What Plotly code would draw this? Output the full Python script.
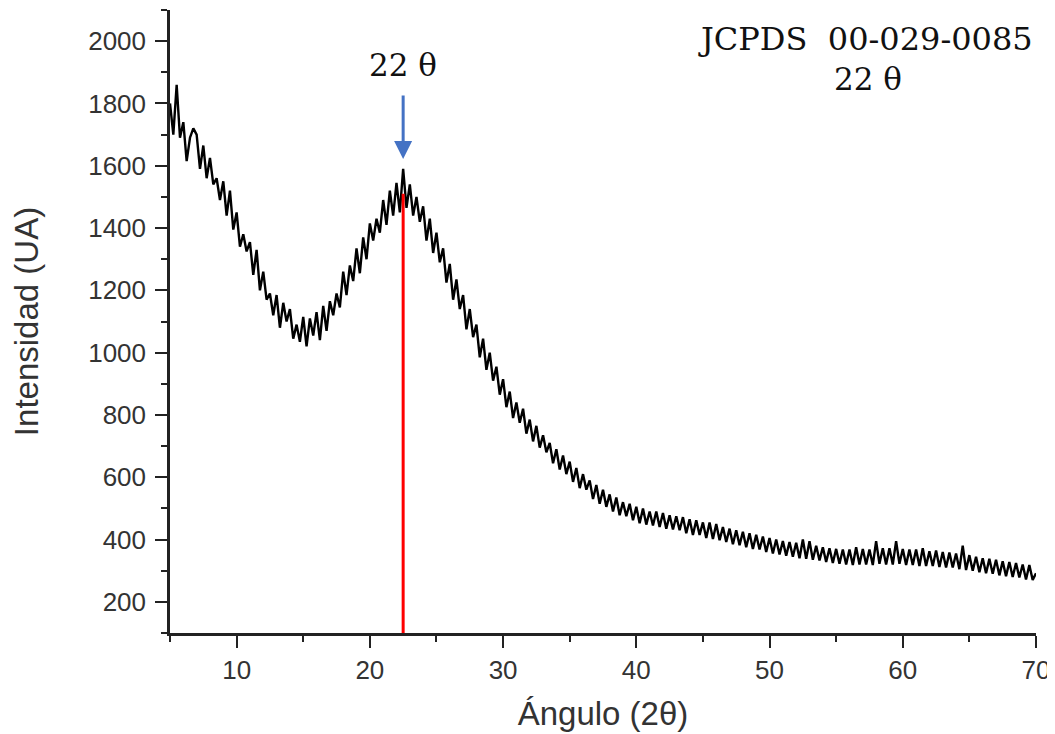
import plotly.graph_objects as go

# Difractograma (DRX) - intensidad leida cada 0.25 grados desde 5 hasta 70
intensity = [
    1800, 1700, 1860, 1690,   # 5
    1740, 1615, 1690, 1720,   # 6
    1700, 1590, 1665, 1560,   # 7
    1625, 1540, 1560, 1490,   # 8
    1550, 1440, 1520, 1395,   # 9
    1450, 1340, 1380, 1325,   # 10
    1355, 1250, 1330, 1200,   # 11
    1260, 1170, 1190, 1120,   # 12
    1185, 1080, 1160, 1100,   # 13
    1140, 1045, 1090, 1035,   # 14
    1115, 1020, 1110, 1055,   # 15
    1130, 1040, 1150, 1070,   # 16
    1165, 1120, 1190, 1145,   # 17
    1260, 1185, 1280, 1230,   # 18
    1335, 1255, 1370, 1300,   # 19
    1415, 1360, 1430, 1385,   # 20
    1490, 1410, 1520, 1440,   # 21
    1545, 1450, 1590, 1465,   # 22
    1540, 1440, 1500, 1420,   # 23
    1470, 1360, 1430, 1320,   # 24
    1385, 1290, 1335, 1225,   # 25
    1285, 1170, 1235, 1140,   # 26
    1185, 1075, 1140, 1050,   # 27
    1090, 985, 1045, 945,     # 28
    1000, 910, 955, 865,      # 29
    915, 825, 875, 790,       # 30
    840, 775, 820, 740,       # 31
    785, 715, 765, 695,       # 32
    735, 680, 710, 645,       # 33
    690, 625, 670, 610,       # 34
    650, 585, 630, 565,       # 35
    610, 560, 590, 530,       # 36
    575, 515, 560, 505,       # 37
    545, 490, 535, 478,       # 38
    520, 475, 515, 462,       # 39
    505, 452, 500, 448,       # 40
    490, 445, 490, 440,       # 41
    485, 435, 478, 432,       # 42
    475, 430, 472, 420,       # 43
    465, 415, 462, 415,       # 44
    455, 405, 455, 402,       # 45
    450, 398, 440, 392,       # 46
    435, 385, 430, 382,       # 47
    425, 375, 420, 370,       # 48
    415, 368, 410, 360,       # 49
    405, 355, 400, 352,       # 50
    395, 348, 392, 345,       # 51
    390, 340, 400, 338,       # 52
    395, 335, 380, 333,       # 53
    375, 328, 372, 325,       # 54
    370, 322, 368, 320,       # 55
    368, 318, 375, 320,       # 56
    370, 320, 368, 318,       # 57
    395, 322, 372, 320,       # 58
    372, 320, 395, 322,       # 59
    370, 318, 368, 318,       # 60
    368, 315, 372, 315,       # 61
    362, 315, 365, 312,       # 62
    360, 310, 358, 310,       # 63
    355, 305, 380, 302,       # 64
    350, 300, 345, 295,       # 65
    340, 292, 338, 290,       # 66
    335, 285, 330, 282,       # 67
    328, 280, 325, 278,       # 68
    320, 272, 318, 270,       # 69
    292,                      # 70
]
angles = [5 + 0.25 * i for i in range(len(intensity))]

# Referencia JCPDS 00-029-0085
ref_angle = [22.5, 22.5]
ref_intensity = [100, 1510]

# flecha azul sobre el pico
arrow_tip = 1622
arrow_tail = 1830

x_ticks = [10, 20, 30, 40, 50, 60, 70]
y_ticks = [200, 400, 600, 800, 1000, 1200, 1400, 1600, 1800, 2000]

axis_color = "#222222"
serif = dict(family="DejaVu Serif", size=31, color="#111111")

fig = go.Figure()
fig.add_trace(go.Scatter(x=angles, y=intensity, mode="lines",
                         line=dict(color="black", width=2.4), showlegend=False))
fig.add_trace(go.Scatter(x=ref_angle, y=ref_intensity, mode="lines",
                         line=dict(color="#ff0000", width=3), showlegend=False))

fig.add_annotation(x=22.5, y=arrow_tip, ax=22.5, ay=arrow_tail, axref="x", ayref="y",
                   text="", showarrow=True, arrowhead=2, arrowsize=1.2, arrowwidth=3,
                   arrowcolor="#4472c4")
fig.add_annotation(x=22.5, y=1925, text="22 θ", showarrow=False, font=serif)
fig.add_annotation(x=57.2, y=2006, text="JCPDS\u00a0\u00a000-029-0085", showarrow=False,
                   font=dict(family="DejaVu Serif", size=32, color="#111111"))
fig.add_annotation(x=57.4, y=1877, text="22 θ", showarrow=False, font=serif)

# the page adds an 8px body margin, so the figure is 8px smaller each way
fig.update_layout(
    width=1047, height=726,
    plot_bgcolor="white", paper_bgcolor="white",
    margin=dict(l=162, r=19, t=2, b=101),
    font=dict(family="Liberation Sans", color="#333333"),
)
fig.update_xaxes(
    range=[5, 70], tickvals=x_ticks, showgrid=False, zeroline=False, automargin=False,
    showline=True, linecolor=axis_color, linewidth=2.5,
    ticks="outside", ticklen=12, tickwidth=2, tickcolor=axis_color,
    tickfont=dict(size=26),
    minor=dict(dtick=5, tick0=0, ticks="outside", ticklen=6, tickwidth=2, tickcolor=axis_color),
    title=dict(text="Ángulo (2θ)", font=dict(size=33, color="#333333"), standoff=18),
)
fig.update_yaxes(
    range=[100, 2100], tickvals=y_ticks, showgrid=False, zeroline=False, automargin=False,
    showline=True, linecolor=axis_color, linewidth=2.5,
    ticks="outside", ticklen=12, tickwidth=2, tickcolor=axis_color,
    tickfont=dict(size=26), ticklabelstandoff=4,
    minor=dict(dtick=100, tick0=0, ticks="outside", ticklen=6, tickwidth=2, tickcolor=axis_color),
    title=dict(text="Intensidad (UA)", font=dict(size=33, color="#333333"), standoff=42),
)

fig.write_html("out.html")
